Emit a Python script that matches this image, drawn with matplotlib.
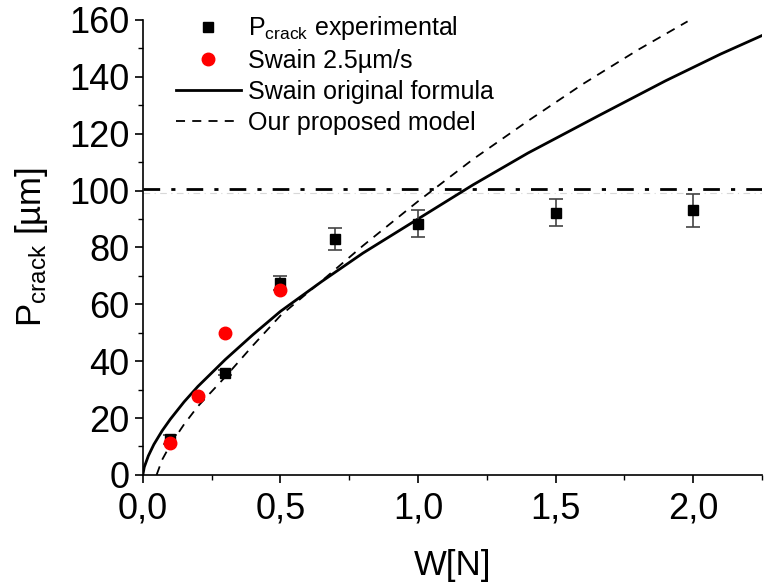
import matplotlib
matplotlib.use("Agg")
import matplotlib.pyplot as plt
from matplotlib.lines import Line2D
from matplotlib.ticker import MultipleLocator, FuncFormatter

plt.rcParams['font.family'] = ['Liberation Sans', 'DejaVu Sans']
plt.rcParams['mathtext.fontset'] = 'custom'
plt.rcParams['mathtext.rm'] = 'Liberation Sans'
plt.rcParams['mathtext.it'] = 'Liberation Sans:italic'

# experimental crack length with error bars
w_exp = [0.1, 0.3, 0.5, 0.7, 1.0, 1.5, 2.0]
p_exp = [12.5, 36.0, 67.5, 83.0, 88.3, 92.2, 93.0]
p_err = [1.5, 1.0, 2.5, 4.0, 4.8, 4.7, 5.8]

# Swain data at 2.5 um/s
w_swain = [0.1, 0.2, 0.3, 0.5]
p_swain = [11.2, 27.8, 50.0, 65.1]

# Swain original formula
w_formula = [0, 0.005, 0.02, 0.04, 0.07, 0.1, 0.15, 0.2, 0.3, 0.4, 0.5,
             0.65, 0.8, 1.0, 1.2, 1.4, 1.66, 1.9, 2.1, 2.25]
p_formula = [0, 2.7, 6.7, 10.7, 15.5, 19.6, 25.7, 31.1, 40.6, 49.3, 57.5,
             68.0, 78.0, 90.0, 102.0, 113.2, 126.5, 138.6, 148.0, 154.5]

# proposed model
w_model = [0.05, 0.07, 0.1, 0.15, 0.2, 0.3, 0.4, 0.5, 0.65, 0.8, 1.0,
           1.2, 1.4, 1.6, 1.8, 1.98]
p_model = [0, 5.3, 10.6, 17.8, 24.1, 34.5, 45.5, 56.0, 68.2, 80.6, 96.2,
           111.0, 124.5, 137.5, 149.5, 159.5]

threshold = 100.7

fig = plt.figure(figsize=(7.68, 5.87), dpi=100)
ax = fig.add_axes([0.186, 0.191, 0.806, 0.775])

ax.axhline(threshold - 1.4, color='#d8d8d8', lw=0.8, dashes=(6, 4, 1, 4))
ax.axhline(threshold, color='black', lw=2.0, dashes=(6, 4, 1.5, 4))

ax.plot(w_formula, p_formula, color='black', lw=2.0)
ax.plot(w_model, p_model, color='black', lw=1.3, dashes=(5, 4))
ax.errorbar(w_exp, p_exp, yerr=p_err, fmt='s', color='black', ms=7,
            ecolor='#444444', elinewidth=1.2, capsize=5, capthick=1.2, zorder=3)
ax.plot(w_swain, p_swain, 'o', color='red', ms=9, zorder=4)

ax.set_xlim(0, 2.25)
ax.set_ylim(0, 160)
ax.xaxis.set_major_locator(MultipleLocator(0.5))
ax.xaxis.set_minor_locator(MultipleLocator(0.25))
ax.yaxis.set_major_locator(MultipleLocator(20))
ax.yaxis.set_minor_locator(MultipleLocator(10))
ax.xaxis.set_major_formatter(FuncFormatter(lambda v, p: f"{v:.1f}".replace('.', ',')))

for s in ['top', 'right']:
    ax.spines[s].set_visible(False)
for s in ['left', 'bottom']:
    ax.spines[s].set_linewidth(1.2)
ax.tick_params(which='major', direction='out', length=6, width=1.2, labelsize=26)
ax.tick_params(which='minor', direction='out', length=3.5, width=1.0)
ax.tick_params(axis='x', pad=6)

ax.set_xlabel('W[N]', fontsize=25, labelpad=16)
ax.set_ylabel(u'P$_{\\mathrm{crack}}$ [\u00b5m]', fontsize=25, labelpad=14)

handles = [
    Line2D([], [], ls='none', marker='s', color='black', ms=7),
    Line2D([], [], ls='none', marker='o', color='red', ms=9),
    Line2D([], [], color='black', lw=2.0),
    Line2D([], [], color='black', lw=1.3, dashes=(5, 4)),
]
labels = [r'P$_{\mathrm{crack}}$ experimental', u'Swain 2.5\u00b5m/s',
          'Swain original formula', 'Our proposed model']
ax.legend(handles, labels, loc='upper left', bbox_to_anchor=(0.053, 1.012),
          frameon=False, fontsize=18, borderpad=0, borderaxespad=0,
          handlelength=2.6, handletextpad=0.3, labelspacing=0.27, numpoints=1)

fig.savefig('out.png', dpi=100)
